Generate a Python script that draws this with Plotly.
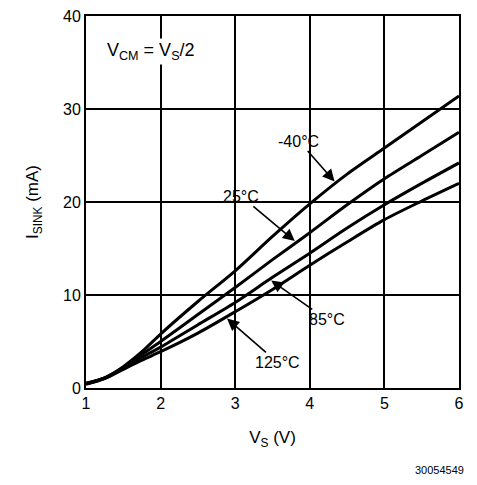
import numpy as np
import plotly.graph_objects as go

# 電源電壓 V_S (V)
VS = [1.0, 1.25, 1.5, 1.75, 2.0, 2.5, 3.0, 3.5, 4.0, 4.5, 5.0, 5.5, 6.0]

# 各溫度的 I_SINK (mA)
I_M40 = [0.5, 1.1, 2.3, 3.9, 5.8, 9.3, 12.6, 16.3, 19.8, 23.0, 25.8, 28.6, 31.4]
I_25 = [0.5, 1.1, 2.2, 3.6, 5.0, 7.9, 10.8, 13.8, 16.7, 19.7, 22.5, 25.0, 27.5]
I_85 = [0.45, 1.05, 2.1, 3.3, 4.4, 6.8, 9.2, 11.9, 14.5, 17.2, 19.7, 22.0, 24.2]
I_125 = [0.4, 1.0, 2.0, 3.0, 3.9, 5.9, 8.2, 10.6, 13.2, 15.7, 18.1, 20.1, 22.0]

SERIES = [("-40°C", I_M40), ("25°C", I_25), ("85°C", I_85), ("125°C", I_125)]

# 標籤箭頭指向的 V_S，與文字偏移 (px)
LABEL_X = {"-40°C": 4.35, "25°C": 3.82, "85°C": 3.46, "125°C": 2.87}
LABEL_OFS = {"-40°C": (-37, -42), "25°C": (-55, -46),
             "85°C": (57, 40), "125°C": (52, 45)}

X_TICKS = [1, 2, 3, 4, 5, 6]
Y_TICKS = [0, 10, 20, 30, 40]

FONT = "Liberation Sans, Arial, sans-serif"

fig = go.Figure()
for name, ys in SERIES:
    fig.add_trace(go.Scatter(x=VS, y=ys, mode="lines", name=name,
                             line=dict(color="black", width=3, shape="spline",
                                       smoothing=0.8),
                             showlegend=False))

for name, ys in SERIES:
    xh = LABEL_X[name]
    yh = float(np.interp(xh, VS, ys))
    ax, ay = LABEL_OFS[name]
    fig.add_annotation(x=xh, y=yh, text=name, showarrow=True, ax=ax, ay=ay,
                       arrowhead=2, arrowsize=1.5, arrowwidth=1.6,
                       arrowcolor="black", standoff=2,
                       font=dict(size=16, color="black"))

fig.add_annotation(x=0.05, y=0.905, xref="paper", yref="paper",
                   text="V<sub>CM</sub> = V<sub>S</sub>/2", showarrow=False,
                   xanchor="left", yanchor="middle", bgcolor="white",
                   font=dict(size=18, color="black"))

fig.add_annotation(x=1.018, y=-0.22, xref="paper", yref="paper",
                   text="30054549", showarrow=False, xanchor="right",
                   yanchor="middle", font=dict(size=11, color="black"))

axis_style = dict(showgrid=True, gridcolor="black", gridwidth=2,
                  showline=True, linecolor="black", linewidth=2, mirror=True,
                  zeroline=False, ticks="", ticklabeloverflow="allow",
                  automargin=False,
                  tickfont=dict(size=16, color="black"))

fig.update_xaxes(range=[1, 6], tickvals=X_TICKS,
                 title=dict(text="V<sub>S</sub> (V)", font=dict(size=17),
                            standoff=20),
                 **axis_style)
fig.update_yaxes(range=[0, 40], tickvals=Y_TICKS,
                 title=dict(text="I<sub>SINK</sub> (mA)", font=dict(size=17),
                            standoff=20),
                 **axis_style)

# 頁面 body 有 8px 邊距，圖面尺寸與邊界依此扣除
fig.update_layout(width=461, height=469,
                  margin=dict(l=78, r=10, t=8, b=89),
                  plot_bgcolor="white", paper_bgcolor="white",
                  font=dict(family=FONT, color="black"))

fig.write_html("out.html")
